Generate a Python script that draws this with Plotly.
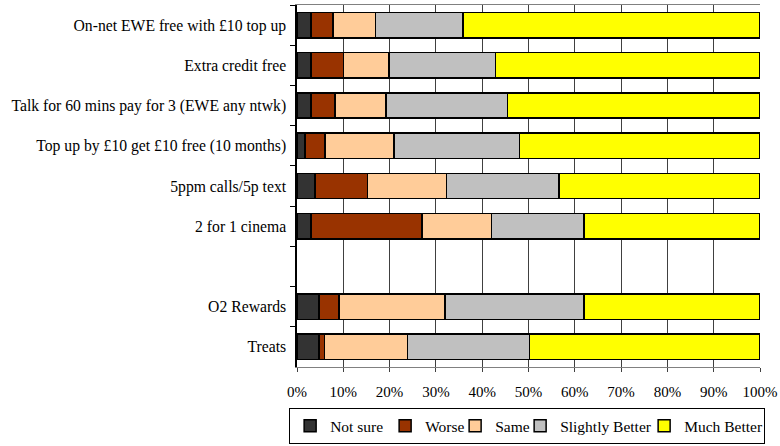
import plotly.graph_objects as go

categories = [
    "On-net EWE free with £10 top up",
    "Extra credit free",
    "Talk for 60 mins pay for 3 (EWE any ntwk)",
    "Top up by £10 get £10 free (10 months)",
    "5ppm calls/5p text",
    "2 for 1 cinema",
    " ",
    "O2 Rewards",
    "Treats",
]
data_categories = [c for c in categories if c.strip()]

not_sure = [3.0, 3.0, 3.0, 1.7, 3.9, 3.0, 4.8, 4.8]
worse = [4.8, 7.0, 5.2, 4.4, 11.3, 24.0, 4.3, 1.1]
same = [9.1, 9.9, 11.0, 14.8, 17.1, 15.0, 22.9, 18.0]
slightly_better = [19.0, 23.0, 26.3, 27.2, 24.3, 20.0, 30.0, 26.3]
much_better = [64.1, 57.1, 54.5, 51.9, 43.4, 38.0, 38.0, 49.8]

series_names = ["Not sure", "Worse", "Same", "Slightly Better", "Much Better"]
series_values = [not_sure, worse, same, slightly_better, much_better]
series_colors = ["#333333", "#993300", "#FFCC99", "#C0C0C0", "#FFFF00"]
legend_widths = [50, 25, 20, 79, 75]

fig = go.Figure()
for name, vals, color, lw in zip(series_names, series_values, series_colors, legend_widths):
    fig.add_trace(go.Bar(
        y=data_categories, x=vals, name=name, orientation="h",
        marker=dict(color=color, line=dict(color="#000000", width=1.5)),
        legendwidth=lw,
    ))

font_family = "'Liberation Serif', 'Times New Roman', 'DejaVu Serif', serif"
fig.update_layout(
    barmode="stack",
    bargap=0.37,
    width=780, height=446,
    margin=dict(l=297, r=20, t=5, b=79, autoexpand=False),
    paper_bgcolor="white",
    plot_bgcolor="white",
    font=dict(family=font_family, size=15.7, color="#000000"),
    showlegend=True,
    legend=dict(
        orientation="h", x=-0.017, xanchor="left", y=-0.114, yanchor="top",
        bordercolor="#000000", borderwidth=1, font=dict(size=15.5),
        traceorder="normal", itemwidth=30, tracegroupgap=0,
    ),
    xaxis=dict(
        range=[0, 100], tickvals=list(range(0, 101, 10)),
        ticktext=[f"{v}%" for v in range(0, 101, 10)],
        tickfont=dict(size=15),
        showgrid=True, gridcolor="#404040", gridwidth=1,
        ticks="outside", ticklen=4, tickcolor="#404040",
        ticklabelstandoff=7,
        showline=True, linecolor="#808080", mirror=True, zeroline=False,
    ),
    yaxis=dict(
        type="category", categoryorder="array", categoryarray=categories,
        autorange="reversed", tickson="boundaries",
        ticks="outside", ticklen=5, tickcolor="#000000",
        showline=True, linecolor="#000000", linewidth=1.5,
        showgrid=False, ticklabelstandoff=6,
    ),
)

fig.write_html("out.html")
